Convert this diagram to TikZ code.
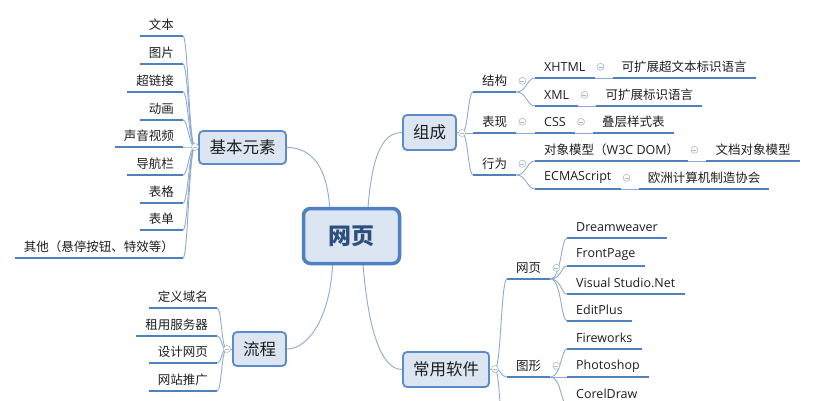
\documentclass[tikz,border=0pt]{standalone}
\usepackage{fontspec}
\setmainfont{Noto Sans CJK SC}
\newfontfamily\lat{Open Sans}
\usetikzlibrary{calc}
\pgfdeclarelayer{back}
\pgfsetlayers{back,main}
\definecolor{uline}{HTML}{4F81C0}
\definecolor{conn}{HTML}{8FAAD6}
\definecolor{tborder}{HTML}{5B8BCB}
\definecolor{cborder}{HTML}{4F80C2}
\definecolor{tfill}{HTML}{DCE6F2}
\definecolor{ctext}{HTML}{2E4E7E}
\definecolor{circ}{HTML}{A8B8CC}
\definecolor{ltext}{HTML}{1E1E1E}
\begin{document}
\begin{tikzpicture}[x=1pt,y=-1pt,
 leaf/.style={font=\fontsize{12.5}{14}\selectfont, text=ltext, inner xsep=9pt, inner ysep=0pt, minimum height=22pt},
 lleaf/.style={leaf, font=\lat\fontsize{12.5}{14}\selectfont},
 topic/.style={draw=tborder, line width=1.8pt, fill=tfill, rounded corners=4pt, font=\fontsize{16.5}{18}\selectfont, text=ltext, inner sep=0pt},
 central/.style={draw=cborder, line width=3.5pt, fill=tfill, rounded corners=7pt, font=\bfseries\fontsize{23}{26}\selectfont, text=ctext, inner sep=0pt, minimum width=96pt, minimum height=55pt},
 ul/.style={draw=uline, line width=2.2pt},
 cn/.style={draw=conn, line width=0.9pt},
 dot/.style={circle, draw=circ, fill=white, line width=0.6pt, inner sep=0pt, minimum size=7pt,
   path picture={\draw[circ, line width=0.6pt] ([xshift=-2pt]path picture bounding box.center) -- ([xshift=2pt]path picture bounding box.center);}},
]
\useasboundingbox (0,0) rectangle (818,400);
\clip (0,0) rectangle (818,400);
\begin{pgfonlayer}{back}
\fill[white] (0,0) rectangle (818,400);
\end{pgfonlayer}

% topics
\node[central] (web) at (351.5,236) {网页};
\node[topic, minimum width=87pt, minimum height=33pt] (kb) at (242.5,147.5) {基本元素};
\node[topic, minimum width=53pt, minimum height=34pt] (lc) at (259.5,349) {流程};
\node[topic, minimum width=53pt, minimum height=35pt] (zc) at (429.5,132.5) {组成};
\node[topic, minimum width=86pt, minimum height=35pt] (cs) at (446,369.5) {常用软件};

% left leaves
\node[leaf, anchor=south east] (b1) at (183,36) {文本};
\node[leaf, anchor=south east] (b2) at (183,64) {图片};
\node[leaf, anchor=south east] (b3) at (183,92) {超链接};
\node[leaf, anchor=south east] (b4) at (183,120) {动画};
\node[leaf, anchor=south east] (b5) at (183,147) {声音视频};
\node[leaf, anchor=south east] (b6) at (183,175) {导航栏};
\node[leaf, anchor=south east] (b7) at (183,203) {表格};
\node[leaf, anchor=south east] (b8) at (183,230) {表单};
\node[leaf, anchor=south east] (b9) at (183,258) {其他（悬停按钮、特效等）};

\node[leaf, anchor=south east] (p1) at (217,308) {定义域名};
\node[leaf, anchor=south east] (p2) at (217,336) {租用服务器};
\node[leaf, anchor=south east] (p3) at (217,363) {设计网页};
\node[leaf, anchor=south east] (p4) at (217,391) {网站推广};

% right: 组成
\node[leaf, anchor=south west] (c1) at (473,92) {结构};
\node[leaf, anchor=south west] (c2) at (473,133) {表现};
\node[leaf, anchor=south west] (c3) at (473,175) {行为};
\node[lleaf, anchor=south west] (x1) at (535,78) {XHTML};
\node[lleaf, anchor=south west] (x2) at (535,106) {XML};
\node[lleaf, anchor=south west] (css) at (535,133) {CSS};
\node[leaf, anchor=south west] (dom) at (535,161) {对象模型（{\lat W3C DOM}）};
\node[lleaf, anchor=south west] (ecma) at (535,189) {ECMAScript};
\node[leaf, anchor=south west] (x1b) at ($(x1.south east)+(18,0)$) {可扩展超文本标识语言};
\node[leaf, anchor=south west] (x2b) at ($(x2.south east)+(18,0)$) {可扩展标识语言};
\node[leaf, anchor=south west] (cssb) at ($(css.south east)+(18,0)$) {叠层样式表};
\node[leaf, anchor=south west] (domb) at ($(dom.south east)+(18,0)$) {文档对象模型};
\node[leaf, anchor=south west] (ecmab) at ($(ecma.south east)+(18,0)$) {欧洲计算机制造协会};

% right: 常用软件
\node[leaf, anchor=south west] (s1) at (507,279) {网页};
\node[leaf, anchor=south west] (s2) at (507,377) {图形};
\coordinate (s3) at (507,470);
\node[lleaf, anchor=south west] (d1) at (567,238) {Dreamweaver};
\node[lleaf, anchor=south west] (d2) at (567,266) {FrontPage};
\node[lleaf, anchor=south west] (d3) at (567,294) {Visual Studio.Net};
\node[lleaf, anchor=south west] (d4) at (567,321) {EditPlus};
\node[lleaf, anchor=south west] (g1) at (567,349) {Fireworks};
\node[lleaf, anchor=south west] (g2) at (567,377) {Photoshop};
\node[lleaf, anchor=south west] (g3) at (567,405) {CorelDraw};

% collapse points
\coordinate (kcc) at (195,147);
\coordinate (lcc) at (227,349);
\coordinate (zcc) at (462,133);
\coordinate (ccc) at (495,369);

\begin{pgfonlayer}{back}
% main connectors
\draw[cn] ($(web.north west)+(28,4)$) .. controls +(-2,-48) and +(22,0) .. (kb.east);
\draw[cn] ($(web.north west)+(66,4)$) .. controls +(4,-55) and +(-20,0) .. (zc.west);
\draw[cn] ($(web.south west)+(31,-4)$) .. controls +(-2,55) and +(22,0) .. (lc.east);
\draw[cn] ($(web.south west)+(61,-4)$) .. controls +(5,65) and +(-22,0) .. (cs.west);
% 基本元素
\draw[cn] (kb.west) -- (kcc);
\foreach \n in {b1,b2,b3,b4,b5,b6,b7,b8,b9}
  \draw[cn] (kcc) .. controls +(-6,0) and +(5,0) .. (\n.south east);
% 流程
\draw[cn] (lc.west) -- (lcc);
\foreach \n in {p1,p2,p3,p4}
  \draw[cn] (lcc) .. controls +(-6,0) and +(5,0) .. (\n.south east);
% 组成
\draw[cn] (zc.east) -- (zcc);
\foreach \n in {c1,c2,c3}
  \draw[cn] (zcc) .. controls +(6,0) and +(-5,0) .. (\n.south west);
\foreach \n in {x1,x2}
  \draw[cn] (c1.south east) .. controls +(10,0) and +(-8,0) .. (\n.south west);
\draw[cn] (c2.south east) -- (css.south west);
\foreach \n in {dom,ecma}
  \draw[cn] (c3.south east) .. controls +(10,0) and +(-8,0) .. (\n.south west);
\draw[cn] (x1.south east) -- (x1b.south west);
\draw[cn] (x2.south east) -- (x2b.south west);
\draw[cn] (css.south east) -- (cssb.south west);
\draw[cn] (dom.south east) -- (domb.south west);
\draw[cn] (ecma.south east) -- (ecmab.south west);
% 常用软件
\draw[cn] (cs.east) -- (ccc);
\foreach \n in {s1,s2}
  \draw[cn] (ccc) .. controls +(6,0) and +(-6,0) .. (\n.south west);
\draw[cn] (ccc) .. controls +(6,0) and +(-6,0) .. (s3);
\foreach \n in {d1,d2,d3,d4}
  \draw[cn] (s1.south east) .. controls +(11,0) and +(-6,0) .. (\n.south west);
\foreach \n in {g1,g2,g3}
  \draw[cn] (s2.south east) .. controls +(11,0) and +(-6,0) .. (\n.south west);
\end{pgfonlayer}

% underlines
\foreach \n in {b1,b2,b3,b4,b5,b6,b7,b8,b9,p1,p2,p3,p4,c1,c2,c3,x1,x2,css,dom,ecma,x1b,x2b,cssb,domb,ecmab,s1,s2,d1,d2,d3,d4,g1,g2,g3}
  \draw[ul] (\n.south west) -- (\n.south east);

% collapse circles
\node[dot] (kdot) at (kcc) {};
\node[dot] (ldot) at (lcc) {};
\node[dot] (zdot) at (zcc) {};
\node[dot] (cdot) at (ccc) {};
\foreach \n in {c1,c2,c3,x1,x2,css,dom,ecma,s1,s2}
  \node[dot] (\n dot) at ($(\n.east)+(6,0)$) {};
\end{tikzpicture}
\end{document}
